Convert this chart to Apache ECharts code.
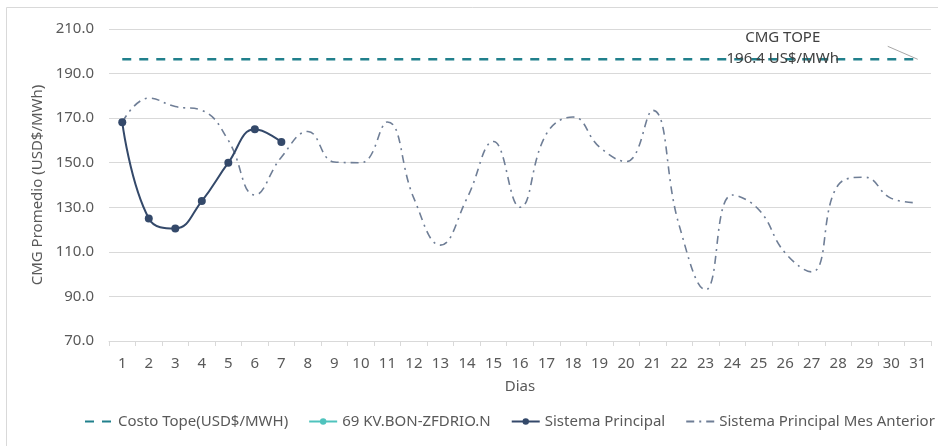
<!DOCTYPE html>
<html>
<head>
<meta charset="utf-8">
<script src="https://cdn.jsdelivr.net/npm/echarts@6/dist/echarts.min.js"></script>
<style>html,body{margin:0;padding:0;background:#fff}#c{width:938px;height:446px}</style>
</head>
<body>
<div id="c"></div>
<script>
const days = ['1','2','3','4','5','6','7','8','9','10','11','12','13','14','15','16','17','18','19','20','21','22','23','24','25','26','27','28','29','30','31'];
const costoTope = [196.4,196.4,196.4,196.4,196.4,196.4,196.4,196.4,196.4,196.4,196.4,196.4,196.4,196.4,196.4,196.4,196.4,196.4,196.4,196.4,196.4,196.4,196.4,196.4,196.4,196.4,196.4,196.4,196.4,196.4,196.4];
const bonZfdrio = [];
const sistemaPrincipal = [168.2,125.0,120.5,132.8,150.0,165.0,159.3];
const mesAnterior = [168.2,179.0,175.2,173.5,160.0,135.5,152.5,164.0,150.3,150.0,168.3,134.0,113.0,134.0,159.5,130.0,163.0,170.5,157.0,150.5,173.5,122.0,93.0,135.5,129.0,109.5,101.0,140.0,143.5,134.0,132.0];
const yTicks = {min:70, max:210, interval:20};
const annotation = ['CMG TOPE','196.4 US$/MWh'];

const chart = echarts.init(document.getElementById('c'));
const font = 'Noto Sans';
const fs = 15;
const option = {
  backgroundColor:'#fff',
  animation:false,
  grid:{left:109,right:7,top:29,bottom:105},
  legend:{
    bottom:17, left:84, right:-30, padding:0, itemWidth:28, itemHeight:8, itemGap:20,
    textStyle:{color:'#595959',fontSize:fs,fontFamily:font},
    data:[
      {name:'Costo Tope(USD$/MWH)', itemStyle:{opacity:0}},
      {name:'69 KV.BON-ZFDRIO.N'},
      {name:'Sistema Principal'},
      {name:'Sistema Principal Mes Anterior', itemStyle:{opacity:0}}
    ]
  },
  xAxis:{
    type:'category', data:days, boundaryGap:true,
    name:'Dias', nameLocation:'middle', nameGap:38,
    nameTextStyle:{color:'#595959',fontSize:fs,fontFamily:font},
    axisLine:{lineStyle:{color:'#d9d9d9'}},
    axisTick:{show:true,length:5,lineStyle:{color:'#d9d9d9'}},
    axisLabel:{color:'#595959',fontSize:fs,fontFamily:font,margin:15},
    splitLine:{show:false}
  },
  yAxis:{
    type:'value', min:yTicks.min, max:yTicks.max, interval:yTicks.interval,
    name:'CMG Promedio (USD$/MWh)', nameLocation:'middle', nameGap:58, nameRotate:90,
    nameTextStyle:{color:'#595959',fontSize:fs,fontFamily:font},
    axisLine:{show:false}, axisTick:{show:false},
    axisLabel:{color:'#595959',fontSize:fs,fontFamily:font,margin:15,formatter:v=>v.toFixed(1)},
    splitLine:{lineStyle:{color:'#d9d9d9',width:1}}
  },
  series:[
    {name:'Costo Tope(USD$/MWH)', type:'line', data:costoTope, symbol:'none',
     itemStyle:{color:'#21808c'}, lineStyle:{color:'#21808c',width:2.5,type:[9,8]}, z:3},
    {name:'69 KV.BON-ZFDRIO.N', type:'line', data:bonZfdrio, symbol:'circle', symbolSize:7,
     itemStyle:{color:'#4fc3bd'}, lineStyle:{color:'#4fc3bd',width:2}},
    {name:'Sistema Principal', type:'line', data:sistemaPrincipal, symbol:'circle', symbolSize:8, smooth:0.45,
     itemStyle:{color:'#34496a'}, lineStyle:{color:'#34496a',width:2}, z:5},
    {name:'Sistema Principal Mes Anterior', type:'line', data:mesAnterior, symbol:'none', smooth:0.45,
     itemStyle:{color:'#6f7e96'}, lineStyle:{color:'#6f7e96',width:1.6,type:[8,5,2,5]}, z:4}
  ]
};
chart.setOption(option);

const end = chart.convertToPixel({xAxisIndex:0,yAxisIndex:0},[days[days.length-1], costoTope[costoTope.length-1]]);
chart.setOption({
  graphic:[
    {type:'rect', shape:{x:6.5,y:7.5,width:940,height:445}, style:{fill:null,stroke:'#d9d9d9',lineWidth:1}, silent:true},
    {type:'line', shape:{x1:end[0]-30,y1:end[1]-13,x2:end[0],y2:end[1]}, style:{stroke:'#a6a6a6',lineWidth:1}, z:10},
    {type:'text', x:end[0]-135, y:end[1]-22, z:10,
     style:{text:annotation[0], align:'center', verticalAlign:'middle', fill:'#404040', fontSize:fs, fontFamily:font}},
    {type:'text', x:end[0]-135, y:end[1]-1, z:10,
     style:{text:annotation[1], align:'center', verticalAlign:'middle', fill:'#404040', fontSize:fs, fontFamily:font}}
  ]
});
</script>
</body>
</html>
